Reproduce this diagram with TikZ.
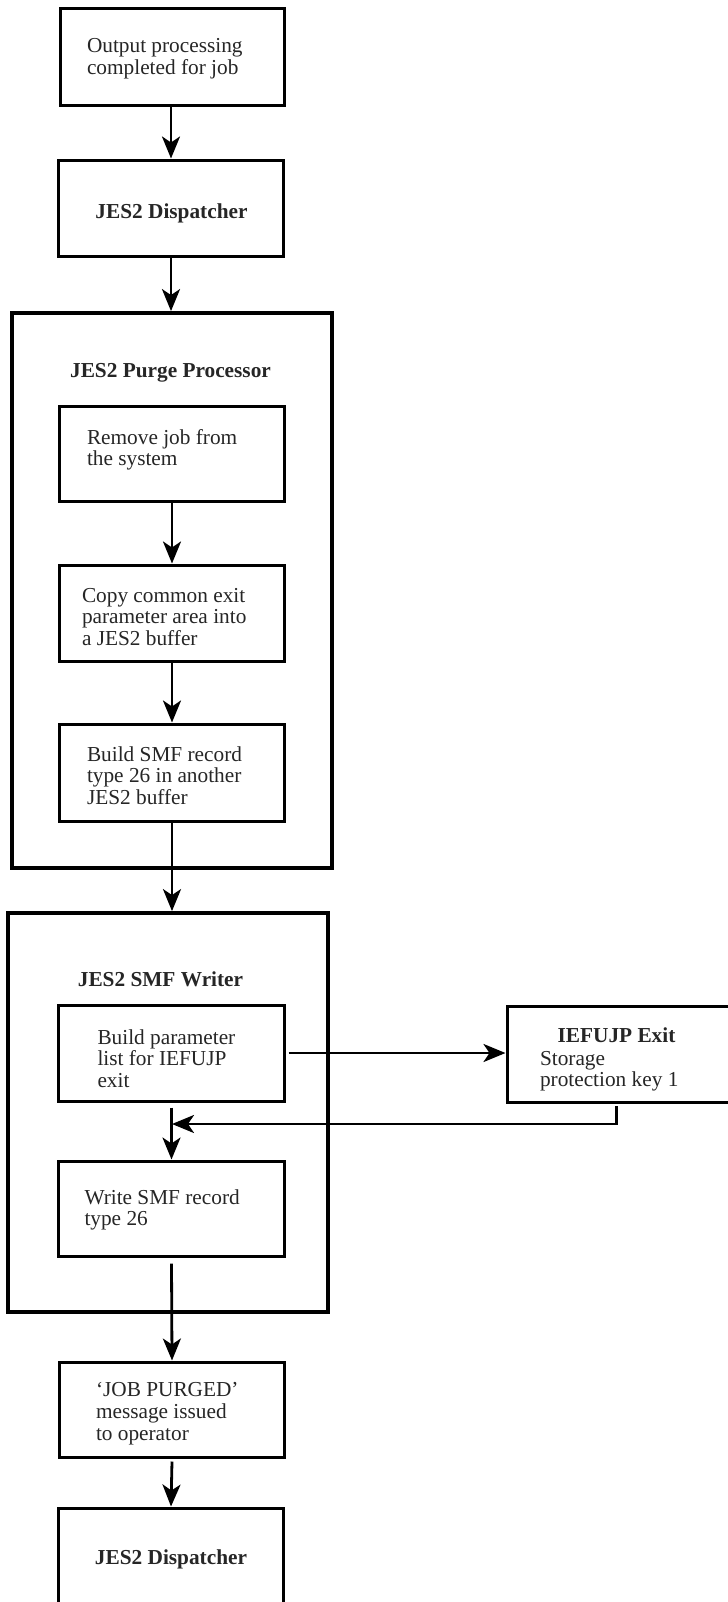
\documentclass[tikz,border=0pt]{standalone}
\usepackage{fontspec}
\setmainfont{Liberation Serif}
\usetikzlibrary{arrows.meta}
\newcommand{\mylines}[1]{\vtop{\baselineskip=21.7bp\lineskiplimit=-10bp\halign{##\hfil\cr#1\crcr}}}
\tikzset{
  box/.style={draw=black, line width=3bp, rectangle, inner sep=0pt, fill=white},
  outerbox/.style={draw=black, line width=3.8bp, rectangle, inner sep=0pt},
  txt/.style={inner sep=0pt, outer sep=0pt, anchor=base west, text=black!85,
    font=\fontsize{21.3bp}{21.7bp}\selectfont},
  ttl/.style={inner sep=0pt, outer sep=0pt, anchor=base, text=black!85,
    font=\fontsize{21.3bp}{21.7bp}\selectfont\bfseries},
  arr/.style={line width=2.8bp, -{Stealth[length=22bp,width=18bp,inset=6bp]}},
}
\begin{document}
\begin{tikzpicture}[x=1bp,y=-1bp]
\useasboundingbox (0,0) rectangle (728,1602);
\clip (0,0) rectangle (728,1602);
\fill[white] (0,0) rectangle (728,1602);

% outer boxes
\node[outerbox, minimum width=320bp, minimum height=555bp] (purge) at (172,590.5) {};
\node[outerbox, minimum width=320bp, minimum height=399bp] (smf) at (168,1112.5) {};

% boxes
\node[box, minimum width=223bp, minimum height=96bp] (b1) at (172.5,57) {};
\node[box, minimum width=224bp, minimum height=96bp] (b2) at (171,208) {};
\node[box, minimum width=224bp, minimum height=95bp] (p1) at (172,453.5) {};
\node[box, minimum width=224bp, minimum height=96bp] (p2) at (172,613) {};
\node[box, minimum width=224bp, minimum height=97bp] (p3) at (172,772.5) {};
\node[box, minimum width=225bp, minimum height=96bp] (s1) at (171.5,1053) {};
\node[box, minimum width=243bp, minimum height=96bp] (ief) at (628.5,1054) {};
\node[box, minimum width=225bp, minimum height=95bp] (s2) at (171.5,1208.5) {};
\node[box, minimum width=224bp, minimum height=95bp] (jp) at (172,1409.5) {};
\node[box, minimum width=224bp, minimum height=132bp] (fin) at (171,1574) {};

% texts
\node[txt] (tb1) at (87,52.7) {\mylines{Output processing\cr completed for job}};
\node[ttl] (tb2) at (171.5,218) {JES2 Dispatcher};
\node[ttl] (tpurge) at (170.5,377) {JES2 Purge Processor};
\node[txt] (tp1) at (87,444) {\mylines{Remove job from\cr the system}};
\node[txt] (tp2) at (82,602) {\mylines{Copy common exit\cr parameter area into\cr a JES2 buffer}};
\node[txt] (tp3) at (87,761) {\mylines{Build SMF record\cr type 26 in another\cr JES2 buffer}};
\node[ttl] (tsmf) at (160.5,986) {JES2 SMF Writer};
\node[txt] (ts1) at (97.5,1044) {\mylines{Build parameter\cr list for IEFUJP\cr exit}};
\node[ttl] (tief) at (616.5,1042) {IEFUJP Exit};
\node[txt] (tief2) at (540,1065) {\mylines{Storage\cr protection key 1}};
\node[txt] (ts2) at (84.5,1204) {\mylines{Write SMF record\cr type 26}};
\node[txt] (tjp) at (96,1396.7) {\mylines{‘JOB PURGED’\cr message issued\cr to operator}};
\node[ttl] (tfin) at (171,1564) {JES2 Dispatcher};

% connectors
\coordinate (r1) at (616.5,1106);
\coordinate (join) at (172,1124);
\draw[arr] (b2.north |- b1.south) -- (b2.north);
\draw[arr] (b2.south) -- (b2.south |- purge.north);
\draw[arr] (p1.south) -- (p2.north);
\draw[arr] (p2.south) -- (p3.north);
\draw[arr] (p3.south) -- (p3.south |- smf.north);
\draw[arr] ([xshift=3bp]s1.east) -- (ief.west |- s1.east);
\draw[arr] (r1) |- (join);
\draw[arr] ([yshift=-5bp]s1.south) -- (s2.north);
\draw[arr] ([yshift=-6bp]s2.south) -- (jp.north);
\draw[arr] ([yshift=-3bp]jp.south) -- (fin.north);
\end{tikzpicture}
\end{document}
